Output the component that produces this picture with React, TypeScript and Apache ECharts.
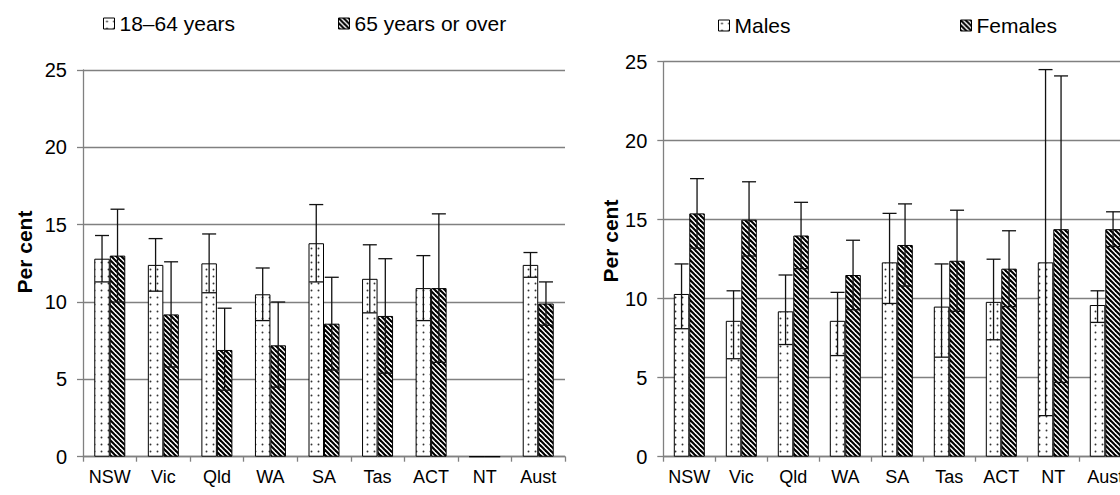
import React, { useEffect, useRef } from 'react';
import * as echarts from 'echarts';

const categories = ['NSW', 'Vic', 'Qld', 'WA', 'SA', 'Tas', 'ACT', 'NT', 'Aust'];
const yTicks = [0, 5, 10, 15, 20, 25];

const age1864 = [12.8, 12.4, 12.5, 10.5, 13.8, 11.5, 10.9, 0, 12.4];
const age1864Low = [11.3, 10.7, 10.6, 8.8, 11.3, 9.3, 8.8, null, 11.6];
const age1864High = [14.3, 14.1, 14.4, 12.2, 16.3, 13.7, 13.0, null, 13.2];

const age65 = [13.0, 9.2, 6.9, 7.2, 8.6, 9.1, 10.9, 0, 9.9];
const age65Low = [10.0, 5.8, 4.3, 4.5, 5.6, 5.4, 6.1, null, 8.5];
const age65High = [16.0, 12.6, 9.6, 10.0, 11.6, 12.8, 15.7, null, 11.3];

const males = [10.3, 8.6, 9.2, 8.6, 12.3, 9.5, 9.8, 12.3, 9.6];
const malesLow = [8.1, 6.2, 7.1, 6.4, 9.7, 6.3, 7.4, 2.6, 8.5];
const malesHigh = [12.2, 10.5, 11.5, 10.4, 15.4, 12.2, 12.5, 24.5, 10.5];

const females = [15.4, 15.0, 14.0, 11.5, 13.4, 12.4, 11.9, 14.4, 14.4];
const femalesLow = [13.2, 12.7, 11.9, 9.3, 10.8, 9.2, 9.5, 4.7, 13.3];
const femalesHigh = [17.6, 17.4, 16.1, 13.7, 16.0, 15.6, 14.3, 24.1, 15.5];

const FONT = '"Liberation Sans", Arial, sans-serif';
const BAR_W = 15.5;
const GRID_COLOR = '#808080';

function makeDots() {
  const c = document.createElement('canvas');
  c.width = 7;
  c.height = 7;
  const g = c.getContext('2d')!;
  g.fillStyle = '#fff';
  g.fillRect(0, 0, 7, 7);
  g.fillStyle = '#333';
  g.beginPath();
  g.arc(3.5, 3.5, 0.95, 0, Math.PI * 2);
  g.fill();
  return c;
}

function makeHatch() {
  const p = 5;
  const c = document.createElement('canvas');
  c.width = p;
  c.height = p;
  const g = c.getContext('2d')!;
  g.fillStyle = '#fff';
  g.fillRect(0, 0, p, p);
  g.strokeStyle = '#000';
  g.lineWidth = 2.1;
  for (const k of [-p, 0, p]) {
    g.beginPath();
    g.moveTo(-1, k - 1);
    g.lineTo(p + 1, p + k + 1);
    g.stroke();
  }
  return c;
}

function errorSeries(name: string, low: (number | null)[], high: (number | null)[], side: number, axis: number) {
  const data: number[][] = [];
  low.forEach((l, i) => {
    if (l != null && high[i] != null) data.push([i, l as number, high[i] as number]);
  });
  return {
    type: 'custom',
    name: name + ' CI',
    xAxisIndex: axis,
    yAxisIndex: axis,
    z: 5,
    silent: true,
    data,
    encode: { x: 0, y: [1, 2] },
    renderItem: (params: any, api: any) => {
      const i = api.value(0);
      const top = api.coord([i, api.value(2)]);
      const bot = api.coord([i, api.value(1)]);
      const x = top[0] + side * BAR_W / 2;
      const hw = 7;
      const style = { stroke: '#111', lineWidth: 1.3 };
      return {
        type: 'group',
        children: [
          { type: 'line', shape: { x1: x, y1: top[1], x2: x, y2: bot[1] }, style },
          { type: 'line', shape: { x1: x - hw, y1: top[1], x2: x + hw, y2: top[1] }, style },
          { type: 'line', shape: { x1: x - hw, y1: bot[1], x2: x + hw, y2: bot[1] }, style },
        ],
      };
    },
  };
}

function xAxis(gridIndex: number) {
  return {
    type: 'category',
    gridIndex,
    data: categories,
    boundaryGap: true,
    axisLine: { lineStyle: { color: GRID_COLOR, width: 1.3 } },
    axisTick: { show: true, length: 5, alignWithLabel: false, lineStyle: { color: GRID_COLOR, width: 1.3 } },
    axisLabel: { interval: 0, fontSize: 18, color: '#000', fontFamily: FONT, margin: 11 },
  };
}

function yAxis(gridIndex: number) {
  return {
    type: 'value',
    gridIndex,
    min: yTicks[0],
    max: yTicks[yTicks.length - 1],
    interval: 5,
    axisLine: { show: true, lineStyle: { color: GRID_COLOR, width: 1.3 } },
    axisTick: { show: true, length: 6, lineStyle: { color: GRID_COLOR, width: 1.3 } },
    axisLabel: { fontSize: 20, color: '#000', fontFamily: FONT, margin: 16 },
    splitLine: { show: true, lineStyle: { color: GRID_COLOR, width: 1.3 } },
  };
}

function legend(name: string, left: number, top: number) {
  return {
    data: [name],
    left,
    top,
    padding: 0,
    icon: 'rect',
    itemWidth: 11,
    itemHeight: 11,
    itemStyle: { borderColor: '#000', borderWidth: 1 },
    textStyle: { fontSize: 21, color: '#000', fontFamily: FONT },
    selectedMode: false,
  };
}

export default function App() {
  const ref = useRef<HTMLDivElement>(null);
  useEffect(() => {
    if (!ref.current) return;
    const chart = echarts.init(ref.current, undefined, { renderer: 'svg' });
    const dots = { image: makeDots(), repeat: 'repeat' } as any;
    const hatch = { image: makeHatch(), repeat: 'repeat' } as any;
    const barBase = (name: string, data: number[], axis: number, fill: any) => ({
      type: 'bar',
      name,
      data,
      xAxisIndex: axis,
      yAxisIndex: axis,
      barWidth: BAR_W,
      barGap: '0%',
      z: 2,
      itemStyle: { color: fill, borderColor: '#000', borderWidth: 1 },
    });
    chart.setOption({
      animation: false,
      backgroundColor: '#fff',
      textStyle: { fontFamily: FONT },
      grid: [
        { left: 83, top: 70, width: 482, height: 386.7, outerBoundsMode: 'none', containLabel: false },
        { left: 663.3, top: 61.7, width: 468, height: 395, outerBoundsMode: 'none', containLabel: false },
      ],
      xAxis: [xAxis(0), xAxis(1)],
      yAxis: [yAxis(0), yAxis(1)],
      legend: [
        legend('18–64 years', 103, 13),
        legend('65 years or over', 338, 13),
        legend('Males', 718, 15),
        legend('Females', 960, 15),
      ],
      graphic: [
        {
          type: 'text',
          x: 24,
          y: 252,
          rotation: Math.PI / 2,
          style: { text: 'Per cent', fontSize: 21, fontWeight: 'bold', fill: '#000', fontFamily: FONT, align: 'center', verticalAlign: 'middle' },
        },
        {
          type: 'text',
          x: 610,
          y: 241,
          rotation: Math.PI / 2,
          style: { text: 'Per cent', fontSize: 21, fontWeight: 'bold', fill: '#000', fontFamily: FONT, align: 'center', verticalAlign: 'middle' },
        },
      ],
      series: [
        barBase('18–64 years', age1864, 0, dots),
        barBase('65 years or over', age65, 0, hatch),
        barBase('Males', males, 1, dots),
        barBase('Females', females, 1, hatch),
        errorSeries('18–64 years', age1864Low, age1864High, -1, 0),
        errorSeries('65 years or over', age65Low, age65High, 1, 0),
        errorSeries('Males', malesLow, malesHigh, -1, 1),
        errorSeries('Females', femalesLow, femalesHigh, 1, 1),
      ],
    });
    return () => chart.dispose();
  }, []);
  return <div ref={ref} style={{ position: 'absolute', left: 0, top: 0, width: 1120, height: 495 }} />;
}
